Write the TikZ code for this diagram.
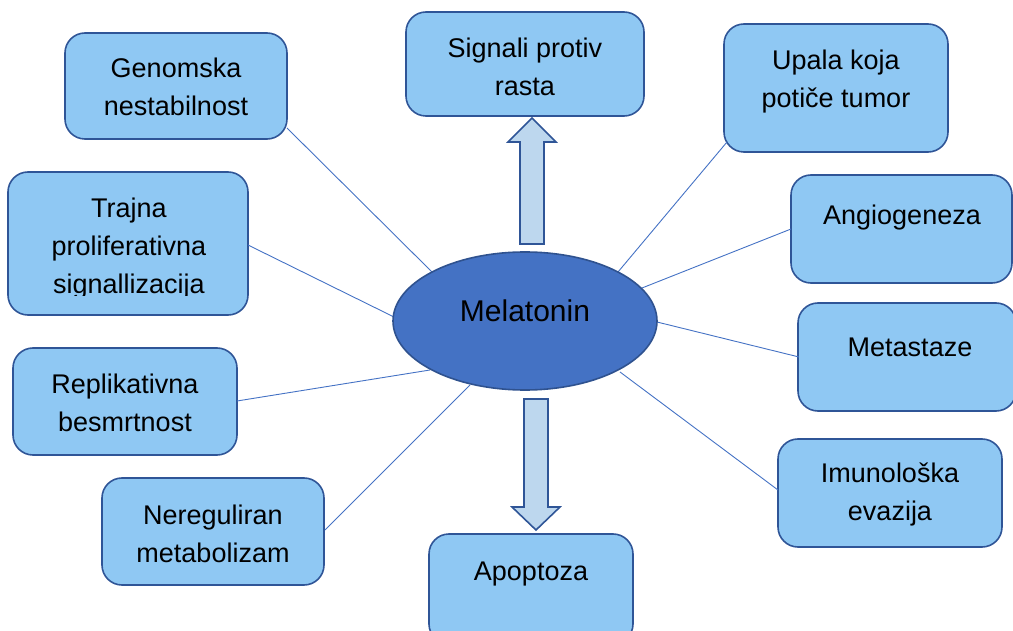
\documentclass[tikz,border=0pt]{standalone}
\usepackage{fontspec}
\setmainfont{Liberation Sans}
\definecolor{boxfill}{HTML}{8FC8F3}
\definecolor{boxdraw}{HTML}{2F5597}
\definecolor{ellfill}{HTML}{4472C4}
\definecolor{ellline}{HTML}{2F528F}
\definecolor{arrfill}{HTML}{BDD7EE}
\definecolor{conn}{HTML}{4472C4}
\tikzset{
  box/.style={draw=boxdraw, fill=boxfill, line width=1.6pt, rounded corners=20pt, inner sep=0pt},
  txt/.style={align=center, inner sep=0pt, font=\fontsize{27}{38}\selectfont, text=black},
  conline/.style={draw=conn, line width=0.9pt},
  blockarrow/.style={draw=boxdraw, fill=arrfill, line width=1.6pt, line join=miter},
}
\begin{document}
\begin{tikzpicture}[x=1pt,y=-1pt]
\useasboundingbox (0,0) rectangle (1013,631);
% boxes
\node[box, minimum width=222pt, minimum height=106pt] (gen) at (176,86) {};
\node[box, minimum width=238pt, minimum height=104pt] (sig) at (525,64) {};
\node[box, minimum width=224pt, minimum height=128pt] (upa) at (836,88) {};
\node[box, minimum width=240pt, minimum height=143pt] (tra) at (128,243.5) {};
\node[box, minimum width=221pt, minimum height=108pt] (ang) at (901.5,229) {};
\node[box, minimum width=218pt, minimum height=108pt] (met) at (907,357) {};
\node[box, minimum width=224pt, minimum height=107pt] (rep) at (125,401.5) {};
\node[box, minimum width=224pt, minimum height=108pt] (imu) at (890,493) {};
\node[box, minimum width=222pt, minimum height=107pt] (ner) at (213,531.5) {};
\node[box, minimum width=204pt, minimum height=110pt] (apo) at (531,589) {};
% connectors
\coordinate (genA) at (287,128);
\coordinate (traA) at (248,245);
\coordinate (repA) at (237,401);
\coordinate (nerA) at (325,530);
\coordinate (upaA) at (727,142);
\coordinate (angA) at (791,229);
\coordinate (metA) at (799,357);
\coordinate (imuA) at (778,490);
\coordinate (genB) at (432,272);
\coordinate (traB) at (394,317);
\coordinate (repB) at (430,370);
\coordinate (nerB) at (470,385);
\coordinate (upaB) at (618,272);
\coordinate (angB) at (642,288);
\coordinate (metB) at (657,322);
\coordinate (imuB) at (620,372);
\foreach \n in {gen,tra,rep,ner,upa,ang,met,imu}{
  \draw[conline] (\n A) -- (\n B);
}
% ellipse
\draw[draw=ellline, fill=ellfill, line width=1.6pt] (525,321) ellipse [x radius=132pt, y radius=69pt];
\node[inner sep=0pt, font=\fontsize{30}{36}\selectfont] (mel) at (525,311) {Melatonin};
% block arrows
\coordinate (upTip) at (532,118);
\coordinate (dnTip) at (536,530);
\draw[blockarrow] (520,244) -- (520,142) -- (508,142) -- (upTip) -- (556,142) -- (544,142) -- (544,244) -- cycle;
\draw[blockarrow] (524,399) -- (524,507) -- (512,507) -- (dnTip) -- (560,507) -- (548,507) -- (548,399) -- cycle;
% texts
\node[txt] (gent) at (176,87) {Genomska\\nestabilnost};
\node[txt] (sigt) at (525,67) {Signali protiv\\rasta};
\node[txt] (upat) at (836,82) {Upala koja\\potiče tumor};
\begin{scope}
\clip (8,160) rectangle (248,296);
\node[txt] (trat) at (129,249) {Trajna\\proliferativna\\signallizacija};
\end{scope}
\node[txt] (angt) at (902,218) {Angiogeneza};
\node[txt] (mett) at (910,347) {Metastaze};
\node[txt] (rept) at (125,403) {Replikativna\\besmrtnost};
\node[txt] (imut) at (890,494) {Imunološka\\evazija};
\node[txt] (nert) at (213,534) {Nereguliran\\metabolizam};
\node[txt] (apot) at (531,574) {Apoptoza};
\end{tikzpicture}
\end{document}
